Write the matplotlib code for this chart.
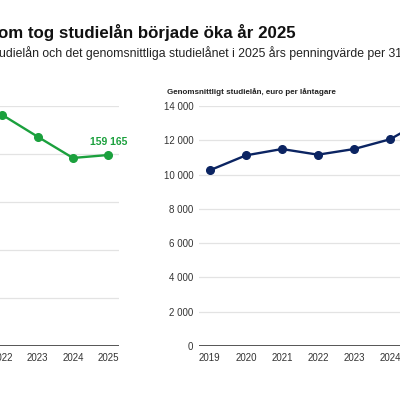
import matplotlib
matplotlib.use("Agg")
import matplotlib.pyplot as plt
from matplotlib.ticker import FuncFormatter

plt.rcParams['font.family'] = ['Liberation Sans', 'DejaVu Sans']

# data
years = [2019, 2020, 2021, 2022, 2023, 2024, 2025]
borrower_years = [2022, 2023, 2024, 2025]
borrowers = [192500, 174400, 156700, 159165]
avg_loan = [10250, 11120, 11490, 11160, 11490, 12060, 13250]

title = "om tog studielån började öka år 2025"
subtitle = "udielån och det genomsnittliga studielånet i 2025 års penningvärde per 31.12."
right_title = "Genomsnittligt studielån, euro per låntagare"

green = '#1ba03d'
navy = '#0b2462'
grid = '#e3e3e3'
base = '#555555'


def space_fmt(v, pos):
    return f"{int(v):,}".replace(",", " ")


def style(ax):
    for s in ax.spines.values():
        s.set_visible(False)
    ax.grid(axis='y', color=grid, linewidth=0.9)
    ax.axhline(0, color=base, linewidth=1.4, zorder=3)
    ax.set_xlim(2018.7, 2025.3)
    ax.set_xticks(years)
    ax.tick_params(axis='x', length=0, pad=5, labelsize=7, colors='#333333')
    ax.tick_params(axis='y', length=0, pad=4, labelsize=7, colors='#333333')
    ax.yaxis.set_major_formatter(FuncFormatter(space_fmt))
    ax.set_axisbelow(True)


fig = plt.figure(figsize=(4, 4), dpi=100)

# left panel (mostly outside the crop): only the years that show in the crop get labels
ax1 = fig.add_axes([-0.285, 0.135, 0.582, 0.6])
style(ax1)
ax1.set_ylim(0, 200000)
ax1.set_yticks(range(0, 200001, 40000))
ax1.tick_params(axis='y', labelleft=False)
ax1.set_xticks(borrower_years)
ax1.plot(borrower_years, borrowers, color=green, linewidth=1.7,
         marker='o', markersize=5.5, clip_on=False, zorder=4)
ax1.annotate(space_fmt(borrowers[-1], None), (borrower_years[-1], borrowers[-1]),
             xytext=(0, 6), textcoords='offset points', ha='center', va='bottom',
             color=green, fontsize=7.5, fontweight='bold')

# right panel
ax2 = fig.add_axes([0.4975, 0.135, 0.595, 0.6])
style(ax2)
ax2.set_ylim(0, 14000)
ax2.set_yticks(range(0, 14001, 2000))
ax2.set_xticks(years[:-1])
ax2.plot(years, avg_loan, color=navy, linewidth=1.7,
         marker='o', markersize=5.5, clip_on=False, zorder=4)

fig.text(0.4175, 0.77, right_title, fontsize=5.8, fontweight='bold',
         color='#222222', va='center')

fig.text(-0.005, 0.905, title, fontsize=12.2, fontweight='bold', color='#111111', va='baseline')
fig.text(-0.002, 0.858, subtitle, fontsize=8.8, color='#222222', va='baseline')

fig.savefig("out.png", dpi=100, facecolor='white')
